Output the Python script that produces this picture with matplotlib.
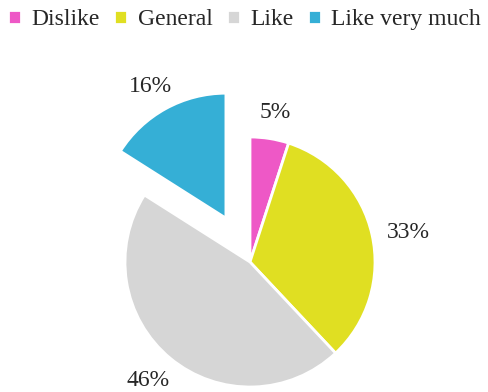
import matplotlib as mpl
import matplotlib.pyplot as plt
import numpy as np

mpl.rcParams['font.family'] = ['Liberation Serif', 'DejaVu Serif']

# data
categories = ['Dislike', 'General', 'Like', 'Like very much']
shares = [5, 33, 46, 16]
colors = ['#EE58C6', '#E0DF22', '#D6D6D6', '#35AFD6']
explode = [0, 0, 0, 0.4]
# placement of each percent label: radial distance (radii) and angle shift (deg)
label_dist = [1.21, 1.29, 1.25, 1.21]
label_shift = [-0.5, -2, -1, 1]

fig = plt.figure(figsize=(4.89, 3.92), dpi=100)
ax = fig.add_axes([125 / 489, 5 / 392, 250 / 489, 250 / 392])

wedges, texts = ax.pie(shares, colors=colors, explode=explode, startangle=90,
                       counterclock=False, radius=1,
                       labels=[f'{s}%' for s in shares], labeldistance=1.2,
                       wedgeprops=dict(edgecolor='white', linewidth=2),
                       textprops=dict(fontsize=17, color='#262626'))

for w, t, d, s, e in zip(wedges, texts, label_dist, label_shift, explode):
    w.set_clip_on(False)
    t.set_clip_on(False)
    mid = np.deg2rad((w.theta1 + w.theta2) / 2)
    cx, cy = e * np.cos(mid), e * np.sin(mid)
    ang = mid + np.deg2rad(s)
    t.set_position((cx + np.cos(ang) * d, cy + np.sin(ang) * d))
    t.set_ha('center')
    t.set_va('center')

ax.set_xlim(-1, 1)
ax.set_ylim(-1, 1)
ax.set_aspect('equal')
ax.axis('off')

fig.legend(wedges, categories, loc='upper center', bbox_to_anchor=(0.5, 1.03),
           ncol=4, frameon=False, fontsize=17, handlelength=0.55, handleheight=0.55,
           handletextpad=0.45, columnspacing=0.6, labelcolor='#262626')

plt.savefig('out.png', dpi=100)
